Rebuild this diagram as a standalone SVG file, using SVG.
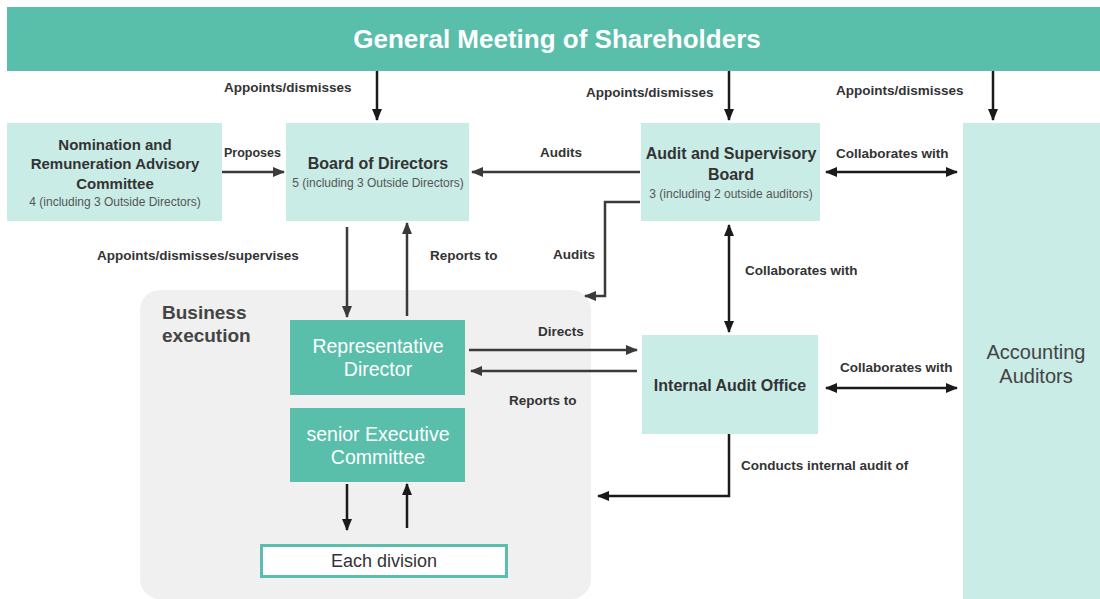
<svg xmlns="http://www.w3.org/2000/svg" width="1100" height="599" viewBox="0 0 1100 599">
<defs>
<marker id="ah" viewBox="0 0 12 10" refX="11" refY="5" markerWidth="12" markerHeight="10" markerUnits="userSpaceOnUse" orient="auto-start-reverse">
<path d="M0,0 L12,5 L0,10 z" fill="#1a1a1a"/>
</marker>
<marker id="ahg" viewBox="0 0 12 10" refX="11" refY="5" markerWidth="12" markerHeight="10" markerUnits="userSpaceOnUse" orient="auto-start-reverse">
<path d="M0,0 L12,5 L0,10 z" fill="#3a3a3a"/>
</marker>
</defs>
<style>
.light{fill:#C9ECE7}
.teal{fill:#59BEAA}
.lbl{font-family:"Liberation Sans",Arial,sans-serif;font-size:13.5px;font-weight:bold;fill:#333}
.nt{font-family:"Liberation Sans",Arial,sans-serif;font-size:16px;font-weight:bold;fill:#333;text-anchor:middle}
.sub{font-family:"Liberation Sans",Arial,sans-serif;font-size:12px;fill:#555;text-anchor:middle}
.wt{font-family:"Liberation Sans",Arial,sans-serif;font-size:19.5px;fill:#fff;text-anchor:middle}
.ln{stroke:#1a1a1a;stroke-width:2.5;fill:none}
.lg{stroke:#3a3a3a;stroke-width:2.5;fill:none}
</style>
<rect width="1100" height="599" fill="#fff"/>

<g id="business-execution">
<rect x="140" y="290" width="451" height="309" rx="20" fill="#F0F0F0"/>
<text x="162" y="319" style="font-family:'Liberation Sans',Arial,sans-serif;font-size:19px;font-weight:bold;fill:#444">Business</text>
<text x="162" y="342" style="font-family:'Liberation Sans',Arial,sans-serif;font-size:19px;font-weight:bold;fill:#444">execution</text>
</g>

<g id="general-meeting">
<rect x="7" y="7" width="1093" height="64" class="teal"/>
<text x="557" y="48" text-anchor="middle" style="font-family:'Liberation Sans',Arial,sans-serif;font-size:26px;font-weight:bold;fill:#fff">General Meeting of Shareholders</text>
</g>

<g id="nomination">
<rect x="7" y="123" width="215" height="98" class="light"/>
<text x="115" y="150" class="nt" style="font-size:15px">Nomination and</text>
<text x="115" y="169" class="nt" style="font-size:15px">Remuneration Advisory</text>
<text x="115" y="189" class="nt" style="font-size:15px">Committee</text>
<text x="115" y="206" class="sub">4 (including 3 Outside Directors)</text>
</g>

<g id="board">
<rect x="286" y="123" width="183" height="98" class="light"/>
<text x="378" y="169" class="nt">Board of Directors</text>
<text x="378" y="187" class="sub">5 (including 3 Outside Directors)</text>
</g>

<g id="audit-supervisory">
<rect x="641" y="123" width="179" height="98" class="light"/>
<text x="731" y="159" class="nt">Audit and Supervisory</text>
<text x="731" y="180" class="nt">Board</text>
<text x="731" y="198" class="sub">3 (including 2 outside auditors)</text>
</g>

<g id="accounting-auditors">
<rect x="963" y="123" width="137" height="476" class="light"/>
<text x="1036" y="359" text-anchor="middle" style="font-family:'Liberation Sans',Arial,sans-serif;font-size:20px;fill:#444">Accounting</text>
<text x="1036" y="383" text-anchor="middle" style="font-family:'Liberation Sans',Arial,sans-serif;font-size:20px;fill:#444">Auditors</text>
</g>

<g id="internal-audit">
<rect x="642" y="335" width="176" height="99" class="light"/>
<text x="730" y="391" class="nt">Internal Audit Office</text>
</g>

<g id="representative-director">
<rect x="290" y="320" width="175" height="75" class="teal"/>
<text x="378" y="353" class="wt">Representative</text>
<text x="378" y="376" class="wt">Director</text>
</g>

<g id="senior-executive">
<rect x="290" y="408" width="175" height="74" class="teal"/>
<text x="378" y="441" class="wt">senior Executive</text>
<text x="378" y="464" class="wt">Committee</text>
</g>

<g id="each-division">
<rect x="261.5" y="545.5" width="245" height="31" fill="#fff" stroke="#59BEAA" stroke-width="3"/>
<text x="384" y="567" text-anchor="middle" style="font-family:'Liberation Sans',Arial,sans-serif;font-size:18px;fill:#333">Each division</text>
</g>

<g id="connectors">
<line x1="377" y1="71" x2="377" y2="120" class="ln" marker-end="url(#ah)"/>
<line x1="729" y1="71" x2="729" y2="120" class="ln" marker-end="url(#ah)"/>
<line x1="993" y1="71" x2="993" y2="120" class="ln" marker-end="url(#ah)"/>
<line x1="222" y1="172" x2="284" y2="172" class="lg" marker-end="url(#ahg)"/>
<line x1="640" y1="172" x2="472" y2="172" class="lg" marker-end="url(#ahg)"/>
<line x1="826" y1="172" x2="957" y2="172" class="ln" marker-start="url(#ah)" marker-end="url(#ah)"/>
<polyline points="640,202 605,202 605,296 585,296" class="lg" marker-end="url(#ahg)"/>
<line x1="347" y1="227" x2="347" y2="317" class="lg" marker-end="url(#ahg)"/>
<line x1="407" y1="316" x2="407" y2="223" class="lg" marker-end="url(#ahg)"/>
<line x1="729" y1="225" x2="729" y2="332" class="ln" marker-start="url(#ah)" marker-end="url(#ah)"/>
<line x1="469" y1="350" x2="637" y2="350" class="lg" marker-end="url(#ahg)"/>
<line x1="637" y1="371" x2="471" y2="371" class="lg" marker-end="url(#ahg)"/>
<line x1="826" y1="388" x2="957" y2="388" class="ln" marker-start="url(#ah)" marker-end="url(#ah)"/>
<polyline points="729,434 729,496 598,496" class="ln" marker-end="url(#ah)"/>
<line x1="347" y1="484" x2="347" y2="530" class="ln" marker-end="url(#ah)"/>
<line x1="407" y1="528" x2="407" y2="484" class="ln" marker-end="url(#ah)"/>

<text x="224" y="92" class="lbl">Appoints/dismisses</text>
<text x="586" y="97" class="lbl">Appoints/dismisses</text>
<text x="836" y="95" class="lbl">Appoints/dismisses</text>
<text x="224" y="157" class="lbl" style="font-size:12.5px">Proposes</text>
<text x="540" y="157" class="lbl">Audits</text>
<text x="836" y="158" class="lbl">Collaborates with</text>
<text x="553" y="259" class="lbl">Audits</text>
<text x="97" y="260" class="lbl">Appoints/dismisses/supervises</text>
<text x="430" y="260" class="lbl">Reports to</text>
<text x="745" y="275" class="lbl">Collaborates with</text>
<text x="538" y="336" class="lbl">Directs</text>
<text x="509" y="405" class="lbl">Reports to</text>
<text x="840" y="372" class="lbl">Collaborates with</text>
<text x="741" y="470" class="lbl">Conducts internal audit of</text>
</g>
</svg>
